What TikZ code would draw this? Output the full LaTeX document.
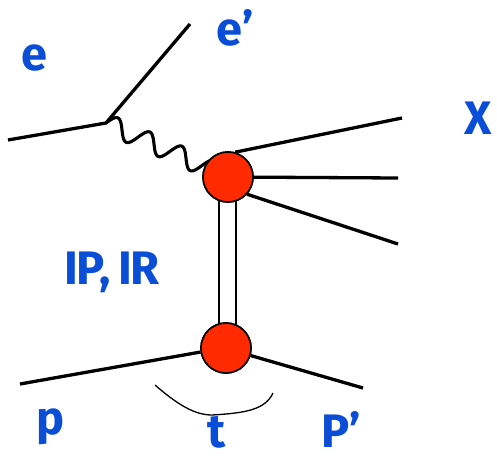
\documentclass[tikz,border=0pt]{standalone}
\usepackage{fontspec}
\setmainfont{Fira Sans}
\definecolor{lblblue}{RGB}{10,78,215}
\definecolor{blobred}{RGB}{255,42,0}
\tikzset{
  fermion/.style={line width=3.3pt},
  photon/.style={line width=3.1pt,line join=round},
  reggeon/.style={line width=1.6pt},
  blob/.style={circle,draw=black,line width=1.6pt,fill=blobred,minimum size=50pt,inner sep=0pt},
  lbl/.style={text=lblblue,font=\fontsize{47}{47}\selectfont\bfseries,anchor=base,inner sep=0pt},
  brace/.style={line width=1.3pt}
}
\begin{document}
\begin{tikzpicture}[x=1pt,y=-1pt]
\useasboundingbox (0,0) rectangle (497,458);
% coordinates
\coordinate (ein) at (8,140);
\coordinate (v) at (106,123);
\coordinate (eout) at (190,24);
\coordinate (x1) at (402,118);
\coordinate (x2) at (398,178);
\coordinate (x3) at (398,244);
\coordinate (pin) at (20,384);
\coordinate (pout) at (363,388);
\node[blob] (top) at (228,177) {};
\node[blob] (bot) at (226,348) {};
% photon (wavy line from vertex v to the upper blob)
\draw[photon] plot[domain=0:133,samples=180,smooth]
  ({106+0.9146*\x+0.4048*9.5*sin(\x*10.2857)}, {123+0.4048*\x-0.9146*9.5*sin(\x*10.2857)});
% lines behind blobs
\draw[reggeon] ([xshift=-9pt]top.center) -- ([xshift=-7pt]bot.center);
\draw[reggeon] ([xshift=8pt]top.center) -- ([xshift=10pt]bot.center);
\draw[fermion] (top.74) -- (x1);
\draw[fermion] (top.center) -- (x2);
\draw[fermion] (top.-42) -- (x3);
\draw[fermion] (pin) -- (bot.189);
\draw[fermion] (bot.-17) -- (pout);
\draw[fermion] (ein) -- (v) -- (eout);
% blobs on top
\node[blob] at (top.center) {};
\node[blob] at (bot.center) {};
% t brace
\draw[brace] (155,385) .. controls (178,405) and (195,415) .. (212,415)
  .. controls (245,413) and (265,410) .. (273,393);
% labels
\node[lbl] (le) at (34,70) {e};
\node[lbl] (lep) at (235,45) {e’};
\node[lbl] (lx) at (478,134) {X};
\node[lbl] (lpr) at (112,284) {I\kern-0.04em P,\,I\kern-0.04em R};
\node[lbl] (lp) at (51,434) {p};
\node[lbl] (lt) at (217,447) {t};
\node[lbl] (lpp) at (341,447) {P’};
\end{tikzpicture}
\end{document}
